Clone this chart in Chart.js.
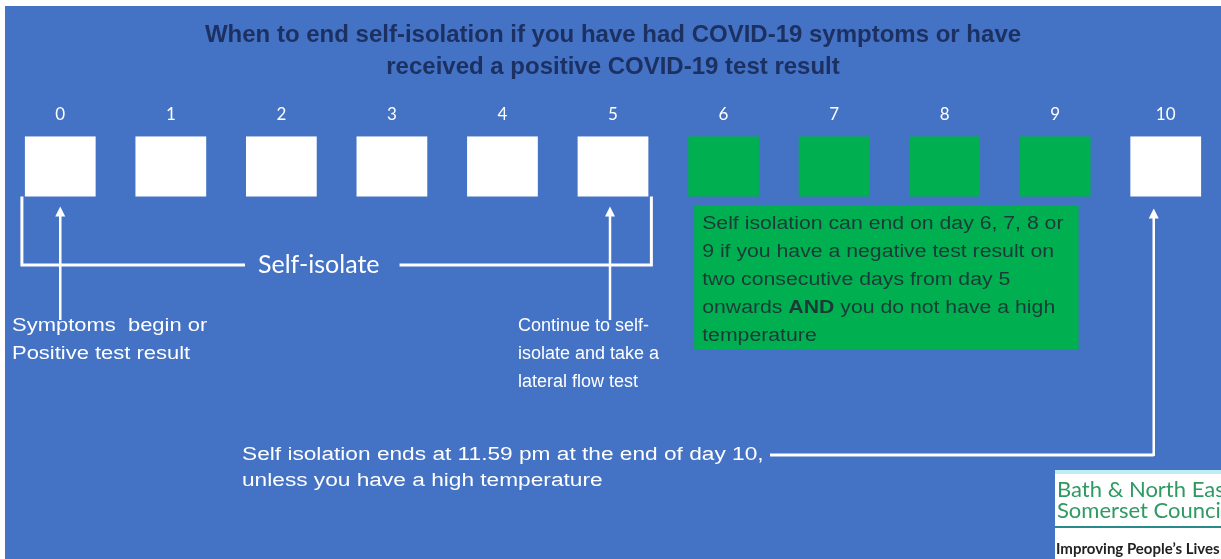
<!DOCTYPE html>
<html>
<head>
<title>When to end self-isolation</title>
<script src="https://cdn.jsdelivr.net/npm/chart.js@4.4.0/dist/chart.umd.min.js"></script>
<style>
  body { margin: 0; background: #fff; }
  #wrap { width: 1221px; height: 559px; }
</style>
</head>
<body>
<div id="wrap"><canvas id="myChart"></canvas></div>
<script>
// days of isolation, one square each
var days = ['0', '1', '2', '3', '4', '5', '6', '7', '8', '9', '10'];
var squareSpan = [[0, 1], [0, 1], [0, 1], [0, 1], [0, 1], [0, 1], [0, 1], [0, 1], [0, 1], [0, 1], [0, 1]];
var canEnd = [false, false, false, false, false, false, true, true, true, true, false];

var titleLines = ['When to end self-isolation if you have had COVID-19 symptoms or have',
  'received a positive COVID-19 test result'];
var startNote = ['Symptoms  begin or', 'Positive test result'];
var testNote = ['Continue to self-', 'isolate and take a', 'lateral flow test'];
var endEarlyNote = ['Self isolation can end on day 6, 7, 8 or', '9 if you have a negative test result on',
  'two consecutive days from day 5', ['onwards ', 'AND', ' you do not have a high'], 'temperature'];
var endNote = ['Self isolation ends at 11.59 pm at the end of day 10,', 'unless you have a high temperature'];

var BLUE = '#4472c4';
var GREEN = '#00b050';
var ARIAL = '"Liberation Sans", Arial, sans-serif';
var CALIBRI = 'Lato, "Open Sans", sans-serif';

function arrowUp(ctx, x, yFrom, yTo) {
  ctx.beginPath();
  ctx.moveTo(x, yFrom);
  ctx.lineTo(x, yTo + 8);
  ctx.stroke();
  ctx.beginPath();
  ctx.moveTo(x, yTo);
  ctx.lineTo(x - 5, yTo + 10);
  ctx.lineTo(x + 5, yTo + 10);
  ctx.closePath();
  ctx.fill();
}

// text drawn a little wider than the font, like the stretched original
function wideText(ctx, t, x, y, sx) {
  ctx.save();
  ctx.translate(x, y);
  ctx.scale(sx, 1);
  ctx.fillText(t, 0, 0);
  ctx.restore();
  return ctx.measureText(t).width * sx;
}

var backdrop = {
  id: 'backdrop',
  beforeDraw: function (chart) {
    var ctx = chart.ctx;
    ctx.save();
    ctx.fillStyle = '#fff';
    ctx.fillRect(0, 0, chart.width, chart.height);
    ctx.fillStyle = BLUE;
    ctx.fillRect(5, 6, chart.width - 5, chart.height - 6);
    ctx.restore();
  }
};

var notes = {
  id: 'notes',
  afterDraw: function (chart) {
    var ctx = chart.ctx;
    var bars = chart.getDatasetMeta(0).data;
    function left(i) { return bars[i].x - bars[i].width / 2; }
    function right(i) { return bars[i].x + bars[i].width / 2; }
    var sqBottom = Math.max(bars[0].y, bars[0].base);

    ctx.save();
    ctx.strokeStyle = '#fff';
    ctx.fillStyle = '#fff';
    ctx.lineWidth = 3;
    ctx.textBaseline = 'middle';

    // Self-isolate bracket
    var bx0 = left(0) - 3, bx1 = right(5) + 3, by = 265;
    ctx.font = '25px ' + CALIBRI;
    var label = 'Self-isolate';
    var lw = ctx.measureText(label).width;
    var lx = 258;
    ctx.beginPath();
    ctx.moveTo(bx0, sqBottom);
    ctx.lineTo(bx0, by);
    ctx.lineTo(lx - 13, by);
    ctx.moveTo(lx + lw + 20, by);
    ctx.lineTo(bx1, by);
    ctx.lineTo(bx1, sqBottom);
    ctx.stroke();
    ctx.fillText(label, lx, by);

    // arrows under day 0 and day 5
    ctx.lineWidth = 2.5;
    arrowUp(ctx, bars[0].x, 320, sqBottom + 10);
    arrowUp(ctx, bars[5].x - 3, 320, sqBottom + 10);

    ctx.font = '18px ' + ARIAL;
    startNote.forEach(function (t, i) { wideText(ctx, t, 12, 326 + i * 28, 1.22); });
    testNote.forEach(function (t, i) { wideText(ctx, t, 518, 326 + i * 28, 1.0); });

    // green box for days 6-9
    var gx0 = left(6) + 6, gx1 = right(9) - 12;
    ctx.fillStyle = GREEN;
    ctx.fillRect(gx0, 205, gx1 - gx0, 144);
    ctx.fillStyle = '#1b3a38';
    endEarlyNote.forEach(function (t, i) {
      var y = 224 + i * 28;
      var parts = Array.isArray(t) ? t : [t];
      var x = gx0 + 8;
      parts.forEach(function (part, j) {
        ctx.font = (j === 1 ? 'bold ' : '') + '18px ' + ARIAL;
        x += wideText(ctx, part, x, y, 1.18);
      });
    });

    // end of day 10
    ctx.fillStyle = '#fff';
    ctx.font = '18px ' + ARIAL;
    endNote.forEach(function (t, i) { wideText(ctx, t, 242, 455 + i * 26, 1.26); });
    var ax = bars[10].x - 12;
    ctx.lineWidth = 3;
    ctx.beginPath();
    ctx.moveTo(770, 455);
    ctx.lineTo(ax, 455);
    ctx.stroke();
    ctx.lineWidth = 2.5;
    arrowUp(ctx, ax, 456, sqBottom + 12);

    // council logo
    ctx.fillStyle = '#fff';
    ctx.fillRect(1055, 470, chart.width - 1055, chart.height - 470);
    ctx.fillStyle = '#bfeef2';
    ctx.fillRect(1055, 470, chart.width - 1055, 4);
    ctx.fillStyle = '#2e9a62';
    ctx.font = '22px ' + CALIBRI;
    ctx.fillText('Bath & North East', 1057, 490);
    ctx.fillText('Somerset Council', 1057, 511);
    ctx.fillStyle = '#2a8a8a';
    ctx.fillRect(1055, 526, chart.width - 1055, 2);
    ctx.fillStyle = '#222';
    ctx.font = 'bold 15px ' + CALIBRI;
    ctx.fillText('Improving People\u2019s Lives', 1056, 549);
    ctx.restore();
  }
};

var ctx = document.getElementById('myChart').getContext('2d');
var myChart = new Chart(ctx, {
  type: 'bar',
  data: {
    labels: days,
    datasets: [{
      data: squareSpan,
      backgroundColor: canEnd.map(function (g) { return g ? GREEN : '#ffffff'; }),
      borderWidth: 0,
      barPercentage: 0.64,
      categoryPercentage: 1
    }]
  },
  options: {
    responsive: true,
    maintainAspectRatio: false,
    animation: false,
    layout: { padding: { left: 5, top: 6, right: 0, bottom: 0 } },
    plugins: {
      legend: { display: false },
      tooltip: { enabled: false },
      title: {
        display: true,
        text: titleLines,
        color: '#1c3162',
        font: { family: ARIAL, size: 24, weight: 'bold', lineHeight: 1.33 },
        padding: { top: 13, bottom: 9 }
      }
    },
    scales: {
      x: {
        position: 'top',
        grid: { display: false, drawTicks: false },
        border: { display: false },
        ticks: { color: '#ffffff', font: { family: CALIBRI, size: 17 }, padding: 12 }
      },
      y: { display: false, reverse: true, min: 0, max: 7.03 }
    }
  },
  plugins: [backdrop, notes]
});
</script>
</body>
</html>
